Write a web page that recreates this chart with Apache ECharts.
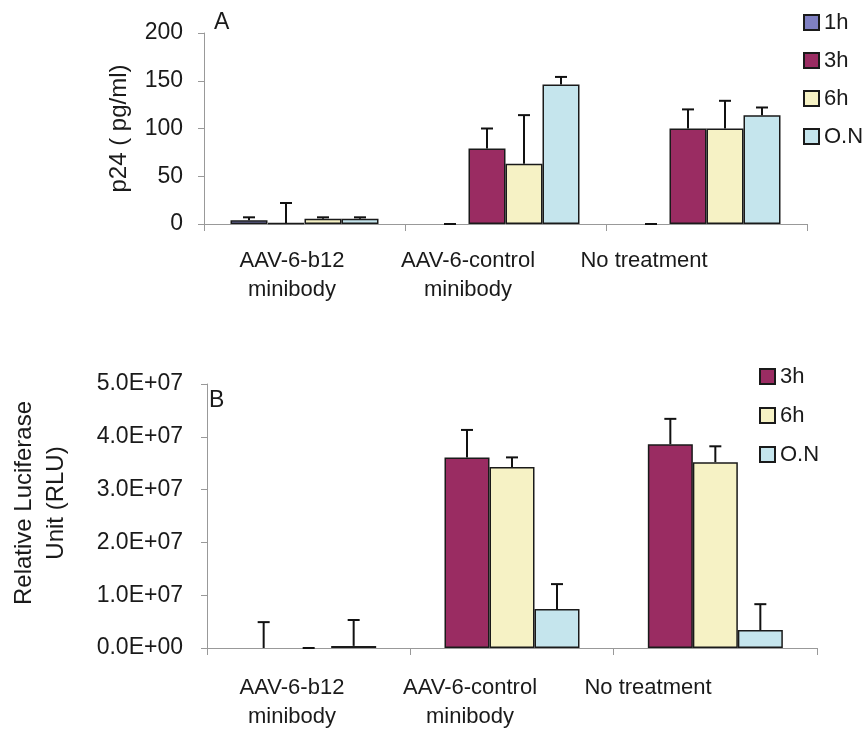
<!DOCTYPE html>
<html>
<head>
<meta charset="utf-8">
<script src="https://cdn.jsdelivr.net/npm/echarts@6/dist/echarts.min.js"></script>
<style>
  html, body { margin: 0; padding: 0; background: #fff; }
  #chart { width: 862px; height: 733px; }
</style>
</head>
<body>
<div id="chart"></div>
<script>
// ---------- data ----------
const categories = ['AAV-6-b12\nminibody', 'AAV-6-control\nminibody', 'No treatment'];

// Panel A: p24 (pg/ml)
const seriesNamesA = ['1h', '3h', '6h', 'O.N'];
const a1h   = [4, 0, 0];
const a3h   = [1, 79, 100];
const a6h   = [5.5, 63, 100];
const aON   = [5.5, 146, 114];
const a1hErr = [3, 0, 0];
const a3hErr = [21, 21, 20];
const a6hErr = [1.5, 51, 29];
const aONErr = [1.5, 8, 8];
const yTicksA = ['0', '50', '100', '150', '200'];

// Panel B: Relative Luciferase Unit (RLU)
const seriesNamesB = ['3h', '6h', 'O.N'];
const b3h   = [0, 3.61e7, 3.86e7];
const b6h   = [0, 3.43e7, 3.52e7];
const bON   = [0.04e7, 0.74e7, 0.34e7];
const b3hErr = [0.49e7, 0.52e7, 0.48e7];
const b6hErr = [0, 0.18e7, 0.30e7];
const bONErr = [0.49e7, 0.47e7, 0.49e7];
const yTicksB = ['0.0E+00', '1.0E+07', '2.0E+07', '3.0E+07', '4.0E+07', '5.0E+07'];

// ---------- style ----------
const FONT = "'Liberation Sans', Arial, sans-serif";
const TXT = '#1a1a1a';
const AXIS = '#999999';
const colors = { '1h': '#7f80c2', '3h': '#9a2c62', '6h': '#f6f2c5', 'O.N': '#c5e5ed' };
const BAR_W_A = 37, BAR_W_B = 45;

const valuesA = [a1h, a3h, a6h, aON];
const errsA = [a1hErr, a3hErr, a6hErr, aONErr];
const valuesB = [b3h, b6h, bON];
const errsB = [b3hErr, b6hErr, bONErr];

function errData(values, errs) {
  const out = [];
  values.forEach((vals, si) => vals.forEach((v, ci) => out.push([ci, si, v, errs[si][ci]])));
  return out;
}

function errRender(n, barW) {
  return function (params, api) {
    const ci = api.value(0), si = api.value(1), v = api.value(2), e = api.value(3);
    const base = api.coord([ci, v]);
    const top = api.coord([ci, v + e]);
    const x = base[0] + (si - (n - 1) / 2) * barW;
    const st = { stroke: '#111', lineWidth: 2 };
    return {
      type: 'group',
      children: [
        { type: 'line', shape: { x1: x, y1: base[1], x2: x, y2: top[1] }, style: st },
        { type: 'line', shape: { x1: x - 6, y1: top[1], x2: x + 6, y2: top[1] }, style: st }
      ]
    };
  };
}

const catLabel = (margin) => ({
  show: true, fontSize: 22, fontFamily: FONT, color: TXT, lineHeight: 29, margin: margin
});

const legendText = { fontSize: 22, fontFamily: FONT, color: TXT, lineHeight: 23 };

const option = {
  animation: false,
  backgroundColor: '#ffffff',
  grid: [
    { left: 204, top: 33, width: 603, height: 191 },
    { left: 204, top: 384, width: 613, height: 264 },
    { left: 204, top: 33, width: 528, height: 191 },
    { left: 203, top: 384, width: 534, height: 264 }
  ],
  legend: [
    {
      orient: 'vertical', left: 798, top: 6, itemWidth: 15, itemHeight: 15, itemGap: 15,
      icon: 'rect', data: seriesNamesA, textStyle: legendText, selectedMode: false
    },
    {
      orient: 'vertical', left: 754, top: 360, itemWidth: 15, itemHeight: 15, itemGap: 16,
      icon: 'rect', data: seriesNamesB, textStyle: legendText, selectedMode: false
    }
  ],
  graphic: [
    { type: 'text', left: 214, top: 11, style: { text: 'A', fontSize: 23, fontFamily: FONT, fill: TXT } },
    { type: 'text', left: 209, top: 389, style: { text: 'B', fontSize: 23, fontFamily: FONT, fill: TXT } }
  ],
  xAxis: [
    {
      type: 'category', gridIndex: 0, data: categories,
      axisLine: { lineStyle: { color: AXIS, width: 1 } },
      axisTick: { show: true, length: 7, lineStyle: { color: AXIS } },
      axisLabel: { show: false }
    },
    {
      type: 'category', gridIndex: 1, data: categories,
      axisLine: { lineStyle: { color: AXIS, width: 1 } },
      axisTick: { show: true, length: 7, lineStyle: { color: AXIS } },
      axisLabel: { show: false }
    },
    {
      type: 'category', gridIndex: 2, data: categories,
      axisLine: { show: false }, axisTick: { show: false },
      axisLabel: catLabel(22)
    },
    {
      type: 'category', gridIndex: 3, data: categories,
      axisLine: { show: false }, axisTick: { show: false },
      axisLabel: catLabel(25)
    }
  ],
  yAxis: [
    {
      type: 'value', gridIndex: 0, min: 0, max: 200, interval: 50,
      name: 'p24 ( pg/ml)', nameLocation: 'middle', nameRotate: 90, nameGap: 73,
      nameTextStyle: { fontSize: 24, fontFamily: FONT, color: TXT },
      axisLine: { show: true, lineStyle: { color: AXIS, width: 1 } },
      axisTick: { show: true, length: 6, lineStyle: { color: AXIS } },
      splitLine: { show: false },
      axisLabel: {
        fontSize: 23, fontFamily: FONT, color: TXT, margin: 21,
        formatter: (v) => yTicksA[Math.round(v / 50)]
      }
    },
    {
      type: 'value', gridIndex: 1, min: 0, max: 5e7, interval: 1e7,
      name: 'Relative Luciferase\nUnit (RLU)', nameLocation: 'middle', nameRotate: 90, nameGap: 135,
      nameTextStyle: { fontSize: 24, fontFamily: FONT, color: TXT, lineHeight: 32, padding: [0, 0, 0, 26] },
      axisLine: { show: true, lineStyle: { color: AXIS, width: 1 } },
      axisTick: { show: true, length: 6, lineStyle: { color: AXIS } },
      splitLine: { show: false },
      axisLabel: {
        fontSize: 23, fontFamily: FONT, color: TXT, margin: 24,
        formatter: (v) => yTicksB[Math.round(v / 1e7)]
      }
    },
    { type: 'value', gridIndex: 2, show: false, min: 0, max: 1 },
    { type: 'value', gridIndex: 3, show: false, min: 0, max: 1 }
  ],
  series: [
    ...seriesNamesA.map((name, i) => ({
      name: name, type: 'bar', xAxisIndex: 0, yAxisIndex: 0,
      barWidth: BAR_W_A, barGap: '0%',
      data: valuesA[i].map(v => (v === 0 ? '-' : v)),
      itemStyle: { color: colors[name], borderColor: '#1a1a1a', borderWidth: 1.5 }
    })),
    {
      type: 'custom', xAxisIndex: 0, yAxisIndex: 0, z: 5,
      renderItem: errRender(4, BAR_W_A),
      encode: { x: 0, y: 2 },
      data: errData(valuesA, errsA)
    },
    ...seriesNamesB.map((name, i) => ({
      name: name, type: 'bar', xAxisIndex: 1, yAxisIndex: 1,
      barWidth: BAR_W_B, barGap: '0%',
      data: valuesB[i].map(v => (v === 0 ? '-' : v)),
      itemStyle: { color: colors[name], borderColor: '#1a1a1a', borderWidth: 1.5 }
    })),
    {
      type: 'custom', xAxisIndex: 1, yAxisIndex: 1, z: 5,
      renderItem: errRender(3, BAR_W_B),
      encode: { x: 0, y: 2 },
      data: errData(valuesB, errsB)
    }
  ]
};

const chart = echarts.init(document.getElementById('chart'), null, { renderer: 'canvas' });
chart.setOption(option);
</script>
</body>
</html>
